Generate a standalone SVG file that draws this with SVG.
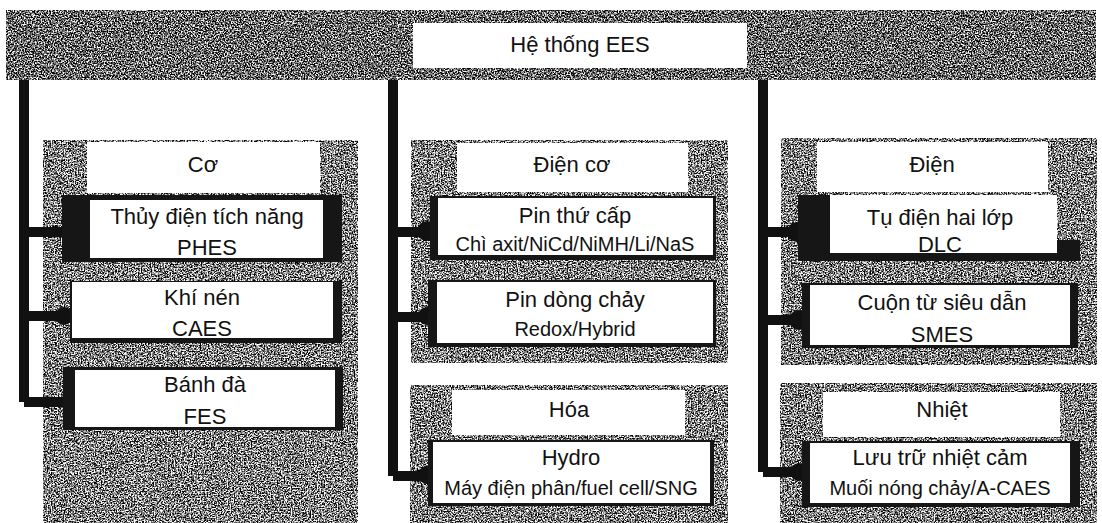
<svg xmlns="http://www.w3.org/2000/svg" width="1102" height="523" viewBox="0 0 1102 523">
<defs>
<filter id="grainDark" filterUnits="userSpaceOnUse" x="0" y="0" width="1102" height="523" color-interpolation-filters="sRGB">
<feTurbulence type="fractalNoise" baseFrequency="0.7" numOctaves="3" seed="7" result="n"/>
<feColorMatrix in="n" type="matrix" values="3.2 0 0 0 -1.2  3.2 0 0 0 -1.2  3.2 0 0 0 -1.2  0 0 0 0 1" result="g"/>
<feComposite in="g" in2="SourceGraphic" operator="in"/>
</filter>
<filter id="grain" filterUnits="userSpaceOnUse" x="0" y="0" width="1102" height="523" color-interpolation-filters="sRGB">
<feTurbulence type="fractalNoise" baseFrequency="0.7" numOctaves="3" seed="11" result="n"/>
<feColorMatrix in="n" type="matrix" values="3.2 0 0 0 -1.1  3.2 0 0 0 -1.1  3.2 0 0 0 -1.1  0 0 0 0 1" result="g"/>
<feComposite in="g" in2="SourceGraphic" operator="in"/>
</filter>
<style>
text{font-family:"Liberation Sans",Arial,sans-serif;fill:#111;text-anchor:middle}
.t{font-size:22px}
.s{font-size:20px}
.w{fill:#fff}
.d{fill:#161616}
.ln{stroke:#111;stroke-width:10;fill:none;stroke-linejoin:miter}
.dot{fill:#111}
</style>
</defs>
<rect width="1102" height="523" fill="#fff"/>
<g id="textures">
<rect x="6" y="10" width="1090" height="70" fill="#000" filter="url(#grainDark)"/>
<g filter="url(#grain)" fill="#000">
<rect x="43" y="140" width="315" height="383"/>
<rect x="411" y="140" width="317" height="223"/>
<rect x="410" y="385" width="318" height="138"/>
<rect x="781" y="138" width="316" height="227"/>
<rect x="780" y="383" width="317" height="140"/>
</g>
</g>
<g id="connectors">
<path class="ln" d="M24 80 V402 M24 232 H70 M24 316 H70 M24 402 H70"/>
<path class="ln" d="M393 80 V476 M393 232 H432 M393 317 H432 M393 476 H432"/>
<path class="ln" d="M763 80 V472 M763 232 H800 M763 320 H804 M763 472 H804"/>
<circle class="dot" cx="64" cy="316" r="9"/>
<circle class="dot" cx="427" cy="231" r="10"/>
<circle class="dot" cx="427" cy="316" r="9"/>
<circle class="dot" cx="427" cy="475" r="9"/>
<circle class="dot" cx="797" cy="232" r="10"/>
<circle class="dot" cx="799" cy="320" r="10"/>
<circle class="dot" cx="799" cy="472" r="9"/>
</g>
<g id="root">
<rect class="w" x="413" y="23" width="334" height="45"/>
<text class="t" x="580" y="52">Hệ thống EES</text>
</g>
<g id="co">
<rect class="w" x="87" y="142" width="233" height="51"/>
<text class="t" x="203" y="172">Cơ</text>
</g>
<g id="phes">
<rect class="d" x="62" y="195" width="280" height="67"/>
<rect class="w" x="90" y="200" width="233" height="58"/>
<text class="t" x="207" y="224">Thủy điện tích năng</text>
<text class="t" x="207" y="255">PHES</text>
</g>
<g id="caes">
<rect class="d" x="70" y="281" width="272" height="62"/>
<rect class="w" x="72" y="282" width="261" height="56"/>
<text class="t" x="202" y="305">Khí nén</text>
<text class="t" x="202" y="336">CAES</text>
</g>
<g id="fes">
<rect class="d" x="63" y="367" width="280" height="63"/>
<rect class="w" x="75" y="370" width="260" height="57"/>
<text class="t" x="205" y="392">Bánh đà</text>
<text class="t" x="205" y="424">FES</text>
</g>
<g id="dienco">
<rect class="w" x="457" y="143" width="231" height="49"/>
<text class="t" x="572" y="172">Điện cơ</text>
</g>
<g id="pinthucap">
<rect class="d" x="430" y="196" width="286" height="64"/>
<rect class="w" x="438" y="198" width="275" height="57"/>
<text class="t" x="575" y="223">Pin thứ cấp</text>
<text class="s" x="575" y="251">Chì axit/NiCd/NiMH/Li/NaS</text>
</g>
<g id="pindongchay">
<rect class="d" x="428" y="280" width="288" height="67"/>
<rect class="w" x="437" y="282" width="276" height="61"/>
<text class="t" x="575" y="307">Pin dòng chảy</text>
<text class="s" x="575" y="336">Redox/Hybrid</text>
</g>
<g id="hoa">
<rect class="w" x="452" y="390" width="233" height="45"/>
<text class="t" x="569" y="417">Hóa</text>
</g>
<g id="hydro">
<rect class="d" x="428" y="440" width="286" height="66"/>
<rect class="w" x="433" y="442" width="277" height="61"/>
<text class="t" x="571" y="465">Hydro</text>
<text class="s" x="571" y="495">Máy điện phân/fuel cell/SNG</text>
</g>
<g id="dien">
<rect class="w" x="817" y="142" width="231" height="50"/>
<text class="t" x="932" y="172">Điện</text>
</g>
<g id="dlc">
<path class="d" d="M798 195 H830 V253 H1057 V240 H1080 V261 H798 Z"/>
<rect class="w" x="830" y="195" width="227" height="58"/>
<text class="t" x="940" y="225">Tụ điện hai lớp</text>
<text class="t" x="940" y="252">DLC</text>
</g>
<g id="smes">
<rect class="d" x="802" y="283" width="276" height="65"/>
<rect class="w" x="810" y="285" width="260" height="60"/>
<text class="t" x="942" y="310">Cuộn từ siêu dẫn</text>
<text class="t" x="942" y="342">SMES</text>
</g>
<g id="nhiet">
<rect class="w" x="823" y="392" width="237" height="45"/>
<text class="t" x="942" y="417">Nhiệt</text>
</g>
<g id="luutru">
<rect class="d" x="802" y="441" width="278" height="66"/>
<rect class="w" x="810" y="443" width="260" height="60"/>
<text class="t" x="940" y="465">Lưu trữ nhiệt cảm</text>
<text class="s" x="940" y="495">Muối nóng chảy/A-CAES</text>
</g>
</svg>
